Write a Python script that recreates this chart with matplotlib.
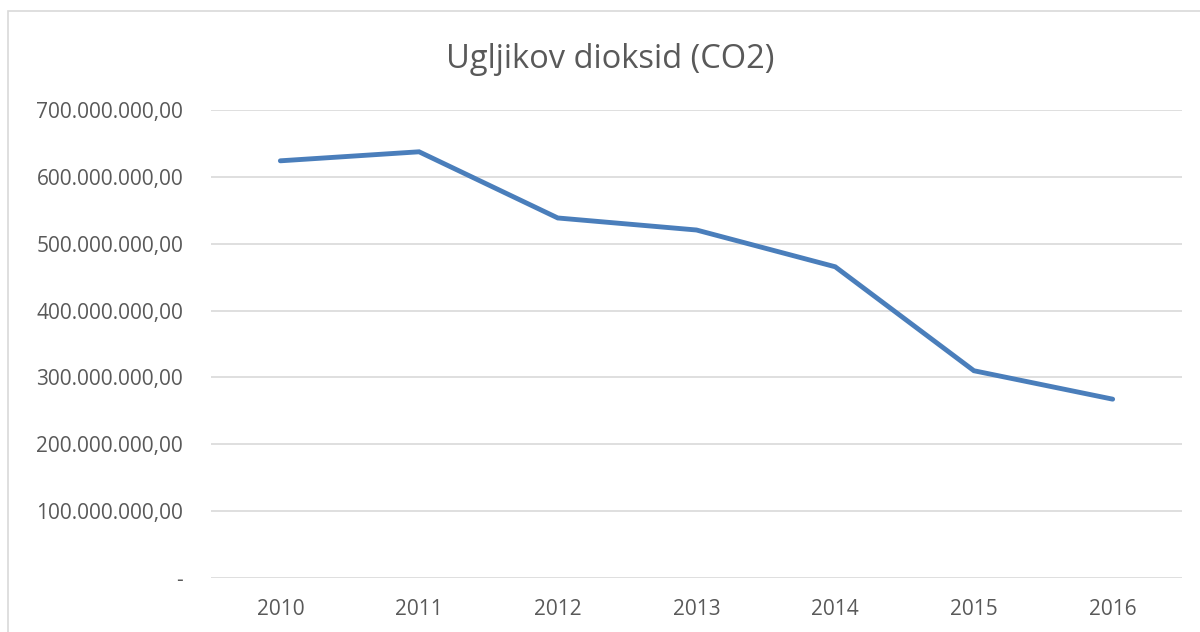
import matplotlib
matplotlib.use("Agg")
import matplotlib.pyplot as plt
from matplotlib.patches import Rectangle
from matplotlib.ticker import FuncFormatter

years = ["2010", "2011", "2012", "2013", "2014", "2015", "2016"]
co2 = [624e6, 637.5e6, 538.5e6, 520.5e6, 465.5e6, 310e6, 267.5e6]
yticks = [0, 100e6, 200e6, 300e6, 400e6, 500e6, 600e6, 700e6]

plt.rcParams['font.family'] = ['Open Sans', 'DejaVu Sans']

W, H = 1200, 632
fig = plt.figure(figsize=(W / 100, H / 100), dpi=100)
fig.patches.append(Rectangle((8 / W, -0.1), 1.2, 1 - 11 / H + 0.1, transform=fig.transFigure,
                             fill=False, edgecolor='#D9D9D9', linewidth=1.2))
ax = fig.add_axes([211 / W, 1 - 578 / H, (1182 - 211) / W, (578 - 110) / H])

x = list(range(len(years)))
ax.plot(x, co2, color='#4A7EBB', linewidth=3.5, solid_capstyle='round', solid_joinstyle='miter')

ax.set_xlim(-0.5, len(years) - 0.5)
ax.set_ylim(0, 700e6)
ax.set_xticks(x)
ax.set_xticklabels(years)
ax.set_yticks(yticks)

def fmt(v, pos):
    if v == 0:
        return "-"
    s = f"{v:,.2f}"
    return s.replace(",", "X").replace(".", ",").replace("X", ".")

ax.yaxis.set_major_formatter(FuncFormatter(fmt))
ax.grid(axis='y', color='#D9D9D9', linewidth=1.2)
ax.set_axisbelow(True)
for s in ax.spines.values():
    s.set_visible(False)
ax.tick_params(axis='both', length=0, labelsize=15, colors='#595959')
ax.tick_params(axis='y', pad=20)
ax.tick_params(axis='x', pad=15)

fig.text(610 / W, 1 - 60 / H, "Ugljikov dioksid (CO2)", ha='center', va='center',
         fontsize=23.5, color='#595959')

fig.savefig("out.png", dpi=100)
